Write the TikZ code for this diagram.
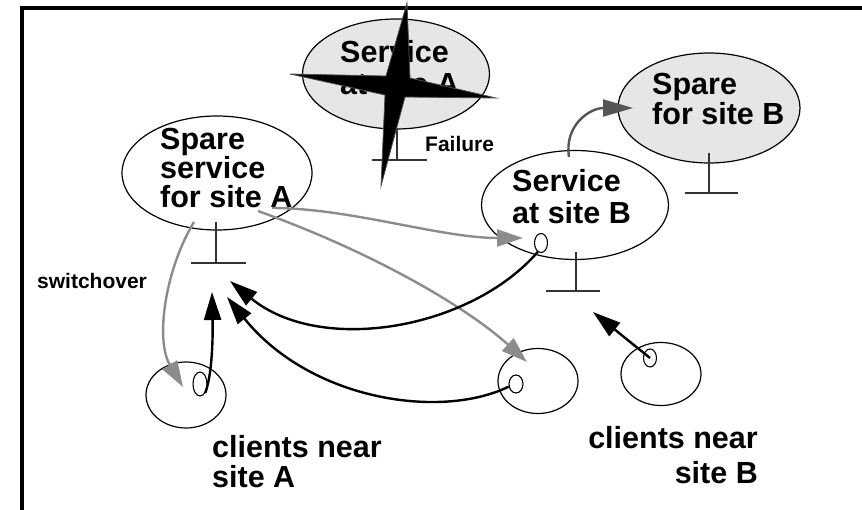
\documentclass[tikz,border=0pt]{standalone}
\usepackage{fontspec}
\setmainfont{Liberation Sans}
\usetikzlibrary{shapes.geometric,arrows.meta}
\definecolor{paleshade}{HTML}{E6E6E6}
\definecolor{linkgray}{HTML}{8C8C8C}
\definecolor{deepgray}{HTML}{555555}
\definecolor{groundgray}{HTML}{333333}
\tikzset{
  svc/.style={ellipse, draw, line width=1.2pt, inner sep=0pt},
  port/.style={ellipse, draw, line width=1.1pt, inner sep=0pt},
  big/.style={font=\fontsize{30.5}{#1}\selectfont\bfseries, inner sep=0pt},
  small/.style={font=\fontsize{21}{21}\selectfont\bfseries, inner sep=0pt, anchor=base west},
  ground/.style={line width=1.3pt, draw=groundgray},
  blackarrow/.style={line width=2.4pt, -{Triangle[length=28pt,width=17pt]}},
  grayarrow/.style={line width=2.4pt, draw=linkgray, -{Triangle[length=26pt,width=17pt]}},
  darkarrow/.style={line width=2.4pt, draw=deepgray, -{Triangle[length=30pt,width=17pt]}},
}
\begin{document}
\begin{tikzpicture}[x=1pt, y=-1pt]
\useasboundingbox (0,0) rectangle (862,510);

% frame
\draw[line width=3.5pt] (22,510) -- (22,8) -- (862,8);

% services and spares (text nodes are anchored on the baseline of their last line)
\node[svc, fill=paleshade, minimum width=187pt, minimum height=110pt] (svcA) at (396,74) {};
\node[big=32, align=left, anchor=base west] (svcAtext) at (340,95) {Service\\at site A};
\node[svc, minimum width=190pt, minimum height=114pt] (spareA) at (217,173) {};
\node[big=29, align=left, anchor=base west] (spareAtext) at (160,208) {Spare\\service\\for site A};
\node[svc, minimum width=187pt, minimum height=109pt] (svcB) at (575,205) {};
\node[big=32, align=left, anchor=base west] (svcBtext) at (512,224) {Service\\at site B};
\node[svc, fill=paleshade, minimum width=182pt, minimum height=110pt] (spareB) at (709,108) {};
\node[big=30, align=left, anchor=base west] (spareBtext) at (652,125) {Spare\\for site B};

% ground symbols
\draw[ground] (397,128) -- (397,160) (372,160) -- (427,160);
\draw[ground] (216,222) -- (216,263) (191,263) -- (246,263);
\draw[ground] (576,252) -- (576,291) (546,291) -- (600,291);
\draw[ground] (709,153) -- (709,193) (685,193) -- (738,193);

% failure cross
\filldraw[fill=black, draw=black!70, line width=0.8pt]
  (407,3) -- (410,78) -- (496,98) -- (405,97) -- (381,186) -- (385,95)
  -- (290,74) -- (386,76) -- cycle;
\node[small] (failure) at (425,152) {Failure};

% clients
\node[svc, minimum width=80pt, minimum height=66pt] (cliA) at (186,395) {};
\node[port, minimum width=14pt, minimum height=24pt] (pA) at (200,384) {};
\node[svc, minimum width=80pt, minimum height=65pt] (cliB) at (538,381) {};
\node[port, minimum width=14pt, minimum height=18pt] (pB1) at (516,384) {};
\node[svc, minimum width=80pt, minimum height=63pt] (cliC) at (661,374) {};
\node[port, minimum width=13pt, minimum height=18pt] (pC) at (650,358) {};
\node[port, minimum width=13pt, minimum height=19pt] (pB) at (541,243) {};

\node[big=30, align=left, anchor=base west] (cliAtext) at (212,487) {clients near\\site A};
\node[big=35, align=right, anchor=base east] (cliBtext) at (758,483) {clients near\\site B};
\node[small] (switch) at (37,289) {switchover};

% end points of the links
\coordinate (swFrom) at (194,222);
\coordinate (swTo) at (183,387);
\coordinate (toBFrom) at (272,208);
\coordinate (toBTo) at (523,238);
\coordinate (toCliFrom) at (258,211);
\coordinate (toCliTo) at (527,362);
\coordinate (spareBFrom) at (569,157);
\coordinate (spareBTo) at (633,108);
\coordinate (tipA1) at (212,292);
\coordinate (tipA2) at (230,281);
\coordinate (tipA3) at (227,297);
\coordinate (tipC) at (593,312);

% gray links
\draw[grayarrow] (swFrom) .. controls (165,270) and (155,340) .. (swTo);
\draw[grayarrow] (toBFrom) .. controls (350,208) and (440,238) .. (toBTo);
\draw[grayarrow] (toCliFrom) .. controls (380,255) and (470,310) .. (toCliTo);
\draw[darkarrow] (spareBFrom) .. controls (564,125) and (590,108) .. (spareBTo);

% black links
\draw[blackarrow] (pA.300) .. controls (212,375) and (213,340) .. (tipA1);
\draw[blackarrow] (pB.250) .. controls (470,330) and (320,355) .. (tipA2);
\draw[blackarrow] (pB1.200) .. controls (440,420) and (310,400) .. (tipA3);
\draw[blackarrow] (pC.center) -- (tipC);
\end{tikzpicture}
\end{document}
